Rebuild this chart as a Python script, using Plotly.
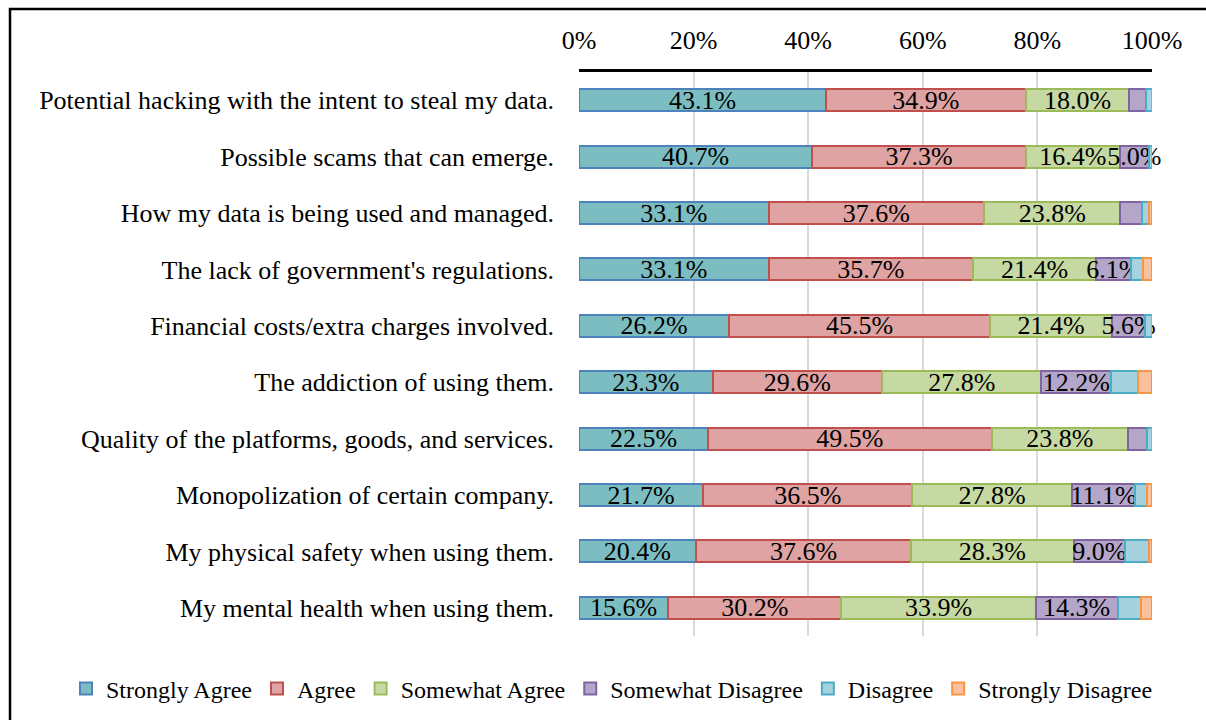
import plotly.graph_objects as go

categories = [
    "Potential hacking with the intent to steal my data.",
    "Possible scams that can emerge.",
    "How my data is being used and managed.",
    "The lack of government's regulations.",
    "Financial costs/extra charges involved.",
    "The addiction of using them.",
    "Quality of the platforms, goods, and services.",
    "Monopolization of certain company.",
    "My physical safety when using them.",
    "My mental health when using them.",
]

strongly_agree = [43.1, 40.7, 33.1, 33.1, 26.2, 23.3, 22.5, 21.7, 20.4, 15.6]
agree = [34.9, 37.3, 37.6, 35.7, 45.5, 29.6, 49.5, 36.5, 37.6, 30.2]
somewhat_agree = [18.0, 16.4, 23.8, 21.4, 21.4, 27.8, 23.8, 27.8, 28.3, 33.9]
somewhat_disagree = [3.0, 5.0, 3.7, 6.1, 5.6, 12.2, 3.3, 11.1, 9.0, 14.3]
disagree = [1.0, 0.6, 1.3, 2.1, 1.3, 4.7, 0.9, 2.1, 4.2, 4.1]
strongly_disagree = [0.0, 0.0, 0.5, 1.6, 0.0, 2.4, 0.0, 0.8, 0.5, 1.9]

tick_values = [0, 20, 40, 60, 80, 100]
tick_labels = ["0%", "20%", "40%", "60%", "80%", "100%"]

series = [
    ("Strongly Agree", strongly_agree, "#7bbdc1", "#4f81bd"),
    ("Agree", agree, "#dea3a2", "#c0504d"),
    ("Somewhat Agree", somewhat_agree, "#c6d9a3", "#9bbb59"),
    ("Somewhat Disagree", somewhat_disagree, "#b4a6c9", "#8064a2"),
    ("Disagree", disagree, "#a6d2e0", "#4bacc6"),
    ("Strongly Disagree", strongly_disagree, "#fbc19c", "#f79646"),
]

FONT = "Liberation Serif, Times New Roman, serif"
FS = 26

fig = go.Figure()
for name, vals, fill, line in series:
    texts = [f"{v:.1f}%" if v >= 5 else "" for v in vals]
    fig.add_trace(go.Bar(
        name=name, y=categories, x=vals, orientation="h",
        marker=dict(color=fill, line=dict(color=line, width=2)),
        text=texts, textposition="inside", insidetextanchor="middle",
        textangle=0, constraintext="none", cliponaxis=False,
        insidetextfont=dict(family=FONT, size=FS, color="black"),
        hoverinfo="skip",
    ))

fig.update_layout(
    width=1206, height=720,
    barmode="stack", bargap=0.61,
    plot_bgcolor="white", paper_bgcolor="white",
    margin=dict(l=579, r=54, t=72, b=84, autoexpand=False),
    font=dict(family=FONT, size=FS, color="black"),
    showlegend=True,
    legend=dict(
        orientation="h", xref="paper", x=(66 - 579) / 573, xanchor="left",
        yref="paper", y=(636 - 689) / 564, yanchor="middle",
        font=dict(family=FONT, size=24, color="black"),
        itemwidth=30, tracegroupgap=0, traceorder="normal",
    ),
    xaxis=dict(
        side="top", range=[0, 100], tickvals=tick_values, ticktext=tick_labels,
        showgrid=True, gridcolor="#d9d9d9", gridwidth=2,
        zeroline=False, showline=True, linecolor="black", linewidth=2.5,
        ticks="", ticklabelstandoff=10,
        tickfont=dict(family=FONT, size=FS, color="black"),
    ),
    yaxis=dict(
        autorange="reversed", showgrid=False, zeroline=False, showline=False,
        ticks="", ticklabelstandoff=24,
        tickfont=dict(family=FONT, size=FS, color="black"),
    ),
    shapes=[dict(
        type="rect", xref="paper", yref="paper",
        x0=(10 - 579) / 573, x1=1.3, y0=-0.4, y1=(636 - 9) / 564,
        line=dict(color="black", width=2.5), fillcolor="rgba(0,0,0,0)",
        layer="below",
    )],
)

fig.write_html("out.html")
